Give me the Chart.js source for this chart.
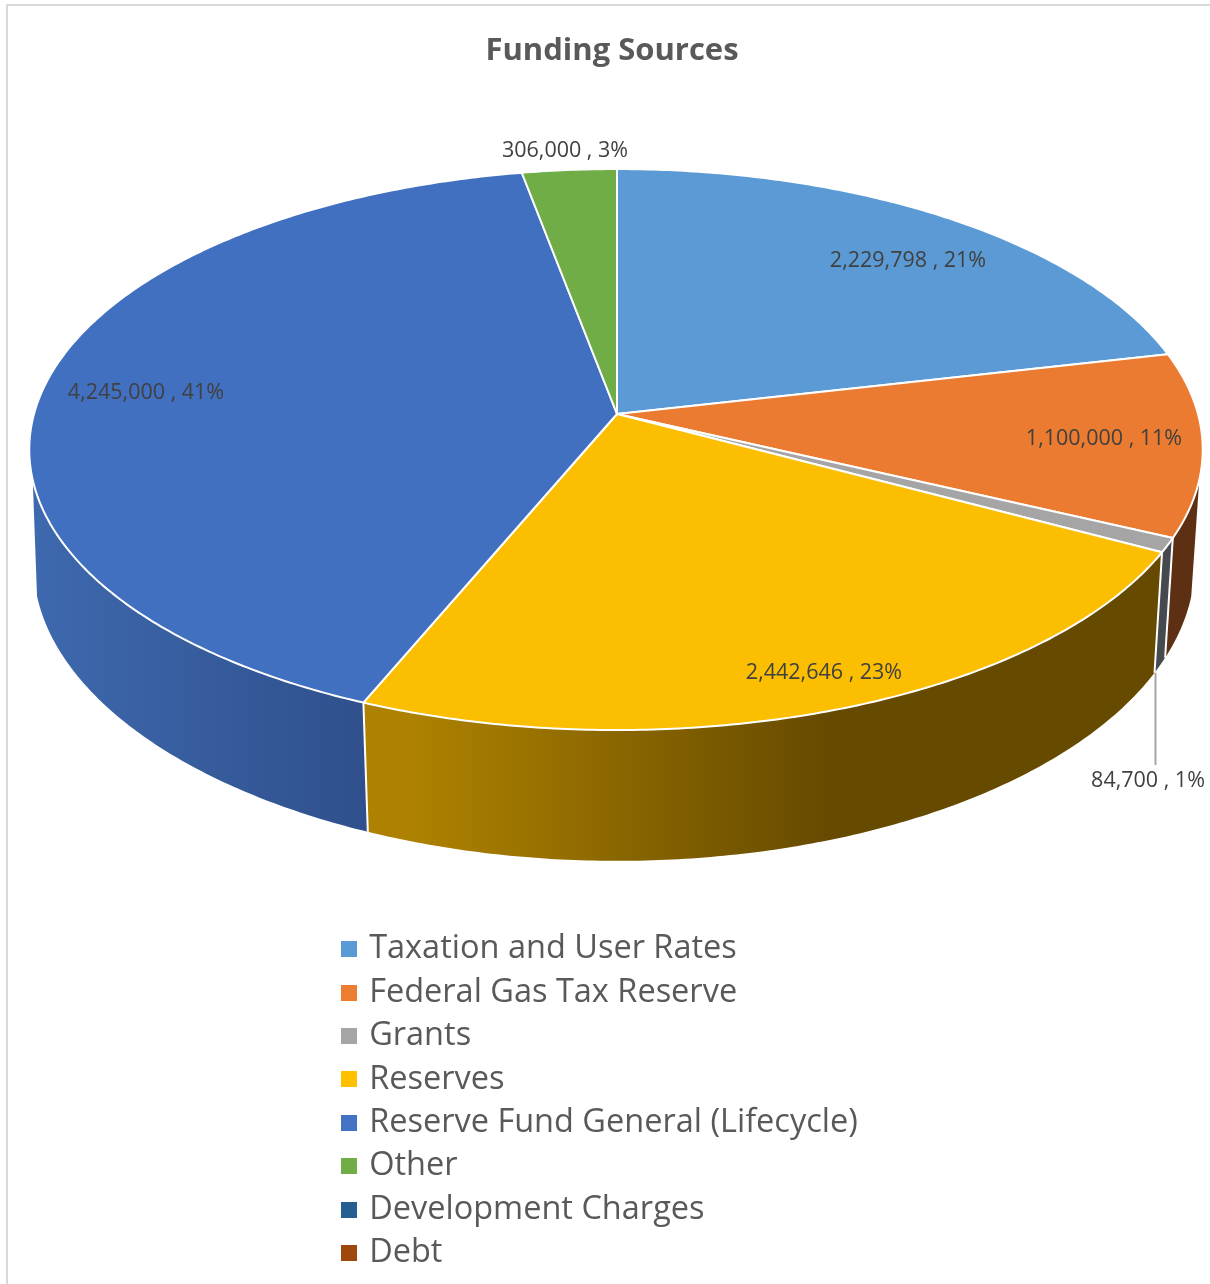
<!DOCTYPE html>
<html><head><meta charset="utf-8">
<style>html,body{margin:0;padding:0;background:#fff}canvas{display:block}</style>
<script src="https://cdn.jsdelivr.net/npm/chart.js@4"></script>
</head><body>
<canvas id="c" width="1210" height="1284"></canvas>
<script>
const titleText = "Funding Sources";
const categories = ["Taxation and User Rates","Federal Gas Tax Reserve","Grants","Reserves","Reserve Fund General (Lifecycle)","Other","Development Charges","Debt"];
const values = [2229798,1100000,84700,2442646,4245000,306000,0,0];
const topColors = ["#5b9ad5","#eb7b30","#a5a5a5","#fbbe00","#4170c1","#70ad47","#255e91","#9e480e"];
const legendColors = ["#5b9bd5","#ed7d31","#a5a5a5","#ffc000","#4472c4","#70ad47","#255e91","#9e480e"];
const labelCentres = [[908,260.5],[1104,438.5],[1148,780.5],[824,672.5],[146,392.5],[565,150.5],null,null];
const labelIdx = [0,1,2,3,4,5];

const FONT = '"Open Sans"';
const TOP = {x:617, y:414, ry:276, rx:u=>u<0?583:581};
const BOT = {x:617, y:526.5, ry:292, rx:u=>u<0?569+10*Math.abs(u):573};
const K = 0.1267;
const WALL_FROM = 1.805, WALL_TO = 4.478;
function project(face, theta){
  const u = Math.sin(theta), v = Math.cos(theta), w = 1 + K*v;
  return [face.x + face.rx(u)*u/w, face.y - face.ry*v/w];
}
function trace(ctx, face, a, b, first){
  const n = Math.max(2, Math.ceil(Math.abs(b-a)/0.01));
  for(let i=0;i<=n;i++){
    const p = project(face, a+(b-a)*i/n);
    if(first && i===0) ctx.moveTo(p[0],p[1]); else ctx.lineTo(p[0],p[1]);
  }
}
function wallFill(ctx, i){
  if(i===3){ const g=ctx.createLinearGradient(363,0,1160,0);
    g.addColorStop(0,"#ae8200"); g.addColorStop(0.06,"#ae8200"); g.addColorStop(0.585,"#664a00"); g.addColorStop(1,"#664a00"); return g; }
  if(i===4){ const g=ctx.createLinearGradient(35,0,365,0);
    g.addColorStop(0,"#3e69ae"); g.addColorStop(1,"#2f508c"); return g; }
  if(i===2) return "#464a4f";
  if(i===1) return "#5e3013";
  return "#333";
}
const pie3d = {
  id:"pie3d",
  afterLayout(chart){
    const l = chart.legend;
    const w = l.right-l.left, h = l.bottom-l.top;
    l.left = 334; l.right = 334+w; l.top = 922; l.bottom = 922+h;
  },
  beforeDraw(chart){
    const ctx = chart.ctx;
    ctx.save();
    ctx.strokeStyle="#d9d9d9"; ctx.lineWidth=2;
    ctx.beginPath(); ctx.moveTo(7,1284); ctx.lineTo(7,5); ctx.lineTo(1210,5); ctx.stroke();
    ctx.restore();
  },
  beforeDatasetDraw(chart, args){
    const ctx = chart.ctx;
    const arcs = chart.getDatasetMeta(args.index).data;
    const ang = arcs.map(a=>({s:a.startAngle+Math.PI/2, e:a.endAngle+Math.PI/2}));
    // side walls
    [4,3,1,2].forEach(i=>{
      const from = Math.max(ang[i].s, WALL_FROM);
      const to = Math.min(ang[i].e, WALL_TO);
      ctx.beginPath();
      trace(ctx, TOP, from, to, true);
      trace(ctx, BOT, to, from, false);
      ctx.closePath();
      ctx.fillStyle = wallFill(ctx,i);
      ctx.fill();
    });
    // wall separators
    ctx.strokeStyle="#fff"; ctx.lineWidth=2;
    [ang[2].s, ang[2].e, ang[4].s].forEach(t=>{
      const a=project(TOP,t), b=project(BOT,t);
      ctx.beginPath(); ctx.moveTo(a[0],a[1]); ctx.lineTo(b[0],b[1]); ctx.stroke();
    });
    // top face
    arcs.forEach((a,i)=>{
      if(values[i]===0) return;
      ctx.beginPath();
      ctx.moveTo(TOP.x,TOP.y);
      trace(ctx, TOP, ang[i].s, ang[i].e, false);
      ctx.closePath();
      ctx.fillStyle = topColors[i];
      ctx.fill();
      ctx.strokeStyle="#fff"; ctx.lineWidth=2; ctx.lineJoin="round";
      ctx.stroke();
    });
    // leader line
    const lp = project(BOT, ang[2].e);
    ctx.strokeStyle="#a6a6a6"; ctx.lineWidth=2;
    ctx.beginPath(); ctx.moveTo(1155.5,lp[1]); ctx.lineTo(1155.5,765); ctx.stroke();
    // data labels
    const total = values.reduce((p,c)=>p+c,0);
    ctx.font = `21.5px ${FONT}`;
    ctx.fillStyle="#404040"; ctx.textAlign="center"; ctx.textBaseline="middle";
    labelIdx.forEach(i=>{
      const text = values[i].toLocaleString("en-US")+" , "+Math.round(values[i]/total*100)+"%";
      const c = labelCentres[i];
      ctx.fillText(text,c[0],c[1]);
    });
    return false;
  }
};
function swatch(color){
  const s=document.createElement("canvas"); s.width=16; s.height=16;
  const x=s.getContext("2d"); x.fillStyle=color; x.fillRect(0,0,16,16);
  return s;
}
new Chart(document.getElementById("c"),{
  type:"pie",
  data:{labels:categories,datasets:[{data:values,backgroundColor:topColors,borderWidth:0}]},
  options:{
    responsive:false,animation:false,
    layout:{padding:{left:14}},
    plugins:{
      tooltip:{enabled:false},
      title:{display:true,text:titleText,color:"#595959",font:{family:FONT,size:31,weight:"bold"},padding:{top:33,bottom:10}},
      legend:{
        position:"left",align:"start",padding:0,
        labels:{
          color:"#595959",font:{family:FONT,size:32.5},padding:10.9,usePointStyle:true,pointStyleWidth:8,
          generateLabels(chart){
            return Chart.overrides.pie.plugins.legend.labels.generateLabels(chart).map((it,i)=>{
              it.pointStyle=swatch(legendColors[i]); it.lineWidth=0; return it;
            });
          }
        }
      }
    }
  },
  plugins:[pie3d]
});
</script>
</body></html>
